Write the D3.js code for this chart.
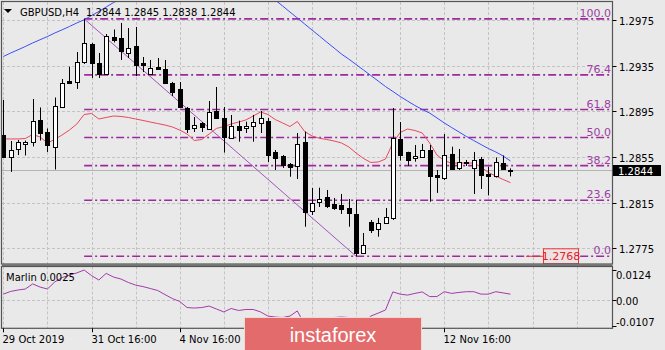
<!DOCTYPE html>
<html><head><meta charset="utf-8">
<script src="https://cdn.jsdelivr.net/npm/d3@7/dist/d3.min.js"></script>
<style>
html,body{margin:0;padding:0;background:#e9e9e9;}
svg{display:block;font-family:"DejaVu Sans",sans-serif;}
</style></head><body>
<svg id="c" width="665" height="350"></svg>
<script>
// ---------- DATA ----------
const opens = [1.28743,1.28550,1.28620,1.28664,1.28681,1.28874,1.28769,1.28640,1.28988,1.29213,
1.29207,1.29382,1.29544,1.29373,1.29277,1.29597,1.29592,1.29461,1.29522,1.29373,
1.29277,1.29338,1.29321,1.29198,1.29146,1.28979,1.28804,1.28848,1.28795,1.28953,
1.28892,1.28716,1.28821,1.28804,1.28824,1.28848,1.28868,1.28594,1.28559,1.28489,
1.28474,1.28681,1.28079,1.28156,1.28200,1.28138,1.28129,1.28103,1.28051,1.27712,
1.27983,1.27919,1.27972,1.28016,1.28708,1.28594,1.28544,1.28553,1.28611,1.28392,
1.28366,1.28576,1.28451,1.28502,1.28454,1.28532,1.28401,1.28383,1.28493,1.28440];
const highs = [1.29049,1.28690,1.28699,1.28694,1.29058,1.28984,1.28800,1.29071,1.29233,1.29341,
1.29470,1.29760,1.29549,1.29461,1.29627,1.29667,1.29724,1.29680,1.29689,1.29426,
1.29400,1.29417,1.29400,1.29207,1.29207,1.28988,1.28900,1.28856,1.29040,1.29163,
1.28988,1.28918,1.28868,1.28859,1.28918,1.28953,1.28892,1.28611,1.28567,1.28497,
1.28760,1.28772,1.28278,1.28281,1.28261,1.28191,1.28226,1.28182,1.28173,1.27884,
1.27998,1.28016,1.28103,1.28979,1.28856,1.28596,1.28655,1.28664,1.28655,1.28436,
1.28751,1.28640,1.28620,1.28524,1.28594,1.28550,1.28465,1.28546,1.28563,1.28450];
const lows = [1.28541,1.28419,1.28567,1.28563,1.28642,1.28694,1.28594,1.28440,1.28984,1.29189,
1.29146,1.29365,1.29242,1.29242,1.29273,1.29553,1.29400,1.29417,1.29259,1.29294,
1.29268,1.29316,1.29189,1.29084,1.28979,1.28760,1.28769,1.28769,1.28791,1.28892,
1.28589,1.28712,1.28684,1.28760,1.28684,1.28760,1.28506,1.28436,1.28454,1.28377,
1.28357,1.27939,1.28042,1.28112,1.28103,1.28086,1.28051,1.27939,1.27680,1.27700,
1.27884,1.27852,1.27963,1.27998,1.28518,1.28471,1.28509,1.28541,1.28158,1.28235,
1.28348,1.28436,1.28436,1.28471,1.28226,1.28270,1.28213,1.28370,1.28436,1.28380];
const closes = [1.28550,1.28611,1.28677,1.28681,1.28861,1.28756,1.28659,1.28999,1.29201,1.29198,
1.29382,1.29549,1.29369,1.29273,1.29610,1.29579,1.29478,1.29505,1.29356,1.29356,
1.29330,1.29321,1.29198,1.29119,1.28988,1.28795,1.28830,1.28813,1.28944,1.28892,
1.28721,1.28824,1.28786,1.28821,1.28856,1.28892,1.28567,1.28544,1.28480,1.28465,
1.28664,1.28068,1.28147,1.28182,1.28123,1.28106,1.28094,1.28059,1.27712,1.27779,
1.27910,1.27974,1.28027,1.28716,1.28567,1.28524,1.28561,1.28611,1.28383,1.28377,
1.28567,1.28442,1.28506,1.28493,1.28524,1.28388,1.28379,1.28509,1.28442,1.28440];
const maFast = [1.28708,1.28708,1.28708,1.28712,1.28747,1.28725,1.28673,1.28703,1.28743,1.28786,
1.28839,1.28922,1.28931,1.28883,1.28896,1.28909,1.28905,1.28896,1.28883,1.28870,
1.28856,1.28843,1.28830,1.28813,1.28786,1.28751,1.28694,1.28703,1.28751,1.28800,
1.28817,1.28839,1.28856,1.28874,1.28909,1.28944,1.28922,1.28878,1.28848,1.28817,
1.28861,1.28773,1.28734,1.28714,1.28703,1.28690,1.28673,1.28638,1.28585,1.28537,
1.28502,1.28506,1.28532,1.28673,1.28765,1.28795,1.28782,1.28760,1.28673,1.28567,
1.28519,1.28495,1.28497,1.28497,1.28497,1.28462,1.28414,1.28383,1.28353,1.28325];
const maSlow = [1.29430,1.29461,1.29489,1.29518,1.29549,1.29577,1.29605,1.29636,1.29664,1.29693,
1.29724,1.29752,1.29789,1.29825,1.29864,1.29903,1.29934,1.29960,1.29987,1.30004,
1.30022,1.30039,1.30048,1.30057,1.30061,1.30065,1.30065,1.30065,1.30061,1.30057,
1.30048,1.30039,1.30026,1.30013,1.29995,1.29978,1.29956,1.29925,1.29873,1.29820,
1.29768,1.29715,1.29662,1.29610,1.29557,1.29505,1.29452,1.29408,1.29360,1.29312,
1.29264,1.29216,1.29167,1.29124,1.29080,1.29040,1.29001,1.28966,1.28935,1.28892,
1.28848,1.28808,1.28769,1.28730,1.28694,1.28659,1.28624,1.28594,1.28559,1.28515];
const marlin = [0.0025,0.0036,0.0042,0.0046,0.0067,0.0054,0.0046,0.0075,0.0093,0.0103,
0.0112,0.0124,0.0101,0.0083,0.0110,0.0095,0.0087,0.0073,0.0062,0.0056,
0.0048,0.0040,0.0023,0.0007,-0.0005,-0.0030,-0.0032,-0.0030,-0.0024,-0.0036,
-0.0048,-0.0034,-0.0042,-0.0038,-0.0038,-0.0048,-0.0065,-0.0069,-0.0071,-0.0065,
-0.0044,-0.0100,-0.0095,-0.0085,-0.0075,-0.0071,-0.0069,-0.0071,-0.0107,-0.0095,
-0.0065,-0.0053,-0.0040,0.0034,0.0025,0.0021,0.0028,0.0034,0.0015,0.0015,
0.0035,0.0028,0.0032,0.0035,0.0035,0.0025,0.0025,0.0035,0.0030,0.0025];
const priceTicks = [1.2975,1.2935,1.2895,1.2855,1.2815,1.2775];
const marlinTicks = [0.0124,0.0,-0.0107];
const marlinTickLabels = ["0.0124","0.00","-0.0107"];
const timeTickIdx = [0,12,24,36,48,60];
const timeLabelIdx = [0,12,24,60];
const timeLabels = ["29 Oct 2019","31 Oct 16:00","4 Nov 16:00","12 Nov 16:00"];
const fibLevels = [100,76.4,61.8,50,38.2,23.6,0];
const fibLabels = ["100.0","76.4","61.8","50.0","38.2","23.6","0.0"];
const fibHighIdx = 11, fibLowIdx = 48, fibHigh = 1.2976, fibLow = 1.2768;
const headerSymbol = "GBPUSD,H4";
const headerOHLC = [1.2844,1.2845,1.2838,1.2844];
const lastPrice = 1.2844;
const lowMarkPrice = 1.2768;
const indicatorName = "Marlin";
const indicatorValue = 0.0025;

// ---------- LAYOUT ----------
const L = 2, R = 612.5, mainTop = 2, mainBot = 264, indTop = 266.5, indBot = 328.3;
const svg = d3.select("#c");
svg.append("rect").attr("width",665).attr("height",350).attr("fill","#e9e9e9");

const x = d3.scaleLinear().domain([0, 69]).range([3.3, 3.3 + 7.35*69]);
const y = d3.scaleLinear().domain([1.2775, 1.2975]).range([248.3, 20]);
const ym = d3.scaleLinear().domain([-0.0107, 0.0124]).range([326.3, 270]);

const defs = svg.append("defs");
defs.append("clipPath").attr("id","cm").append("rect")
  .attr("x",L).attr("y",mainTop).attr("width",R-L).attr("height",mainBot-mainTop);
defs.append("clipPath").attr("id","ci").append("rect")
  .attr("x",L).attr("y",indTop).attr("width",R-L).attr("height",indBot-indTop);

const gridCol = "#c3c3c3";
const main = svg.append("g").attr("clip-path","url(#cm)");
const ind = svg.append("g").attr("clip-path","url(#ci)");

// vertical grid
const gridIdx = d3.range(0, 84, 6).filter(i => x(i) < R);
gridIdx.forEach(i => {
  const gx = Math.round(x(i)) + 0.5;
  main.append("line").attr("x1",gx).attr("x2",gx).attr("y1",mainTop).attr("y2",mainBot)
    .attr("stroke",gridCol).attr("stroke-dasharray","3,2");
  ind.append("line").attr("x1",gx).attr("x2",gx).attr("y1",indTop).attr("y2",indBot)
    .attr("stroke",gridCol).attr("stroke-dasharray","3,2");
});
// horizontal grid
priceTicks.forEach(p => {
  const gy = Math.round(y(p)) + 0.5;
  main.append("line").attr("x1",L).attr("x2",R).attr("y1",gy).attr("y2",gy)
    .attr("stroke",gridCol).attr("stroke-dasharray","3,2");
});
ind.append("line").attr("x1",L).attr("x2",R).attr("y1",Math.round(ym(0))+0.5).attr("y2",Math.round(ym(0))+0.5)
  .attr("stroke",gridCol).attr("stroke-dasharray","3,2");

// current price line
main.append("line").attr("x1",L).attr("x2",R).attr("y1",Math.round(y(lastPrice))+0.5).attr("y2",Math.round(y(lastPrice))+0.5)
  .attr("stroke","#b4b4b4");

// fibonacci
const fibCol = "#9e2a9e";
fibLevels.forEach((lv, k) => {
  const p = fibLow + (fibHigh - fibLow) * lv / 100;
  const fy = y(p);
  main.append("line").attr("x1",x(fibHighIdx)).attr("x2",R).attr("y1",fy).attr("y2",fy)
    .attr("stroke",fibCol).attr("stroke-width",1.6).attr("stroke-dasharray","8,3,2,3");
  main.append("text").attr("x",R-1.5).attr("y",fy-2).attr("text-anchor","end")
    .attr("font-size",11).attr("fill","#9c3fa3").text(fibLabels[k]);
});
// trend line
main.append("line").attr("x1",x(fibHighIdx)).attr("y1",y(fibHigh)).attr("x2",x(fibLowIdx)).attr("y2",y(fibLow))
  .attr("stroke","#a552bd").attr("stroke-width",1);

// moving averages
const lineGen = d3.line().x((d,i)=>x(i)).y(d=>y(d));
main.append("path").attr("d",lineGen(maSlow)).attr("fill","none").attr("stroke","#3d4ef5").attr("stroke-width",1);
main.append("path").attr("d",lineGen(maFast)).attr("fill","none").attr("stroke","#e8485f").attr("stroke-width",1);

// candles
const candles = main.append("g");
opens.forEach((o, i) => {
  const c = closes[i];
  const cx = Math.round(x(i));
  candles.append("line").attr("x1",cx+0.5).attr("x2",cx+0.5)
    .attr("y1",y(highs[i])).attr("y2",y(lows[i])).attr("stroke","#000").attr("stroke-width",1);
  const top = Math.round(y(Math.max(o,c))), bot = Math.round(y(Math.min(o,c)));
  const h = Math.max(bot - top, 1);
  candles.append("rect").attr("x",cx-2+0.5).attr("y",top+0.5).attr("width",4).attr("height",h)
    .attr("fill", c >= o ? "#ffffff" : "#000000").attr("stroke","#000").attr("stroke-width",1);
});

// low mark label
const lmY = y(lowMarkPrice);
main.append("line").attr("x1",526).attr("x2",543).attr("y1",lmY).attr("y2",lmY).attr("stroke","#e8333a").attr("stroke-width",1);
main.append("rect").attr("x",543.5).attr("y",lmY-7.5).attr("width",35).attr("height",15)
  .attr("fill","#ebe3e3").attr("stroke","#f0343c").attr("stroke-width",1);
main.append("text").attr("x",561).attr("y",lmY+4).attr("text-anchor","middle").attr("font-size",11)
  .attr("fill","#e8202a").text(lowMarkPrice.toFixed(4));

// marlin line
const mLine = d3.line().x((d,i)=>x(i)).y(d=>ym(d));
ind.append("path").attr("d",mLine(marlin)).attr("fill","none").attr("stroke","#a33aa8").attr("stroke-width",1);

// panel borders
const bc = "#555";
svg.append("rect").attr("x",L-0.5).attr("y",mainTop-0.5).attr("width",R-L+0.5).attr("height",mainBot-mainTop+0.5)
  .attr("fill","none").attr("stroke",bc).attr("stroke-width",1.2);
svg.append("line").attr("x1",L).attr("x2",R).attr("y1",265).attr("y2",265).attr("stroke","#777").attr("stroke-width",2);
svg.append("rect").attr("x",L-0.5).attr("y",indTop).attr("width",R-L+0.5).attr("height",indBot-indTop)
  .attr("fill","none").attr("stroke",bc).attr("stroke-width",1.2);

// right price axis
priceTicks.forEach(p => {
  const ty = Math.round(y(p)) + 0.5;
  svg.append("line").attr("x1",R).attr("x2",R+4).attr("y1",ty).attr("y2",ty).attr("stroke","#000");
  svg.append("text").attr("x",619).attr("y",ty+4).attr("font-size",10).attr("fill","#000").text(p.toFixed(4));
});
const lpY = Math.round(y(lastPrice));
svg.append("rect").attr("x",613).attr("y",lpY-5).attr("width",48).attr("height",11).attr("fill","#000");
svg.append("text").attr("x",618).attr("y",lpY+4.5).attr("font-size",10).attr("fill","#fff").text(lastPrice.toFixed(4));

// marlin axis
const mOff = [8, 4, -1];
marlinTicks.forEach((v,k) => {
  const ty = Math.round(ym(v)) + 0.5;
  svg.append("line").attr("x1",R).attr("x2",R+4).attr("y1",ty).attr("y2",ty).attr("stroke","#000");
  svg.append("text").attr("x",616).attr("y",ty+mOff[k]).attr("font-size",10).attr("fill","#000").text(marlinTickLabels[k]);
});
svg.append("text").attr("x",6).attr("y",281).attr("font-size",10).attr("fill","#000")
  .text(indicatorName + " " + indicatorValue.toFixed(4));

// time axis
timeTickIdx.forEach(idx => {
  const tx = Math.round(x(idx)) + 0.5;
  svg.append("line").attr("x1",tx).attr("x2",tx).attr("y1",indBot).attr("y2",indBot+4).attr("stroke","#000");
});
timeLabelIdx.forEach((idx,k) => {
  const tx = Math.round(x(idx)) + 0.5;
  svg.append("text").attr("x",tx-1).attr("y",343).attr("font-size",10).attr("fill","#000").text(timeLabels[k]);
});

// header
svg.append("path").attr("d","M4,9 L12,9 L8,13 Z").attr("fill","#000");
svg.append("text").attr("x",20).attr("y",16).attr("font-size",10).attr("fill","#000").text(headerSymbol);
svg.append("text").attr("x",86).attr("y",16).attr("font-size",10).attr("fill","#000")
  .text(headerOHLC.map(v=>v.toFixed(4)).join(" "));

// watermark
svg.append("rect").attr("x",244.5).attr("y",317.5).attr("width",177).attr("height",34)
  .attr("fill","#e46b6b").attr("stroke","#f4d6d6").attr("stroke-width",1);
svg.append("text").attr("x",333).attr("y",341.5).attr("text-anchor","middle")
  .attr("font-family","'Liberation Sans',Arial,sans-serif").attr("font-size",20).attr("fill","#ffffff").text("instaforex");
</script>
</body></html>
